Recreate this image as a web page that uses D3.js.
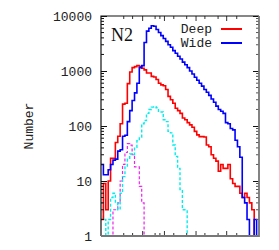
<!DOCTYPE html>
<html lang="en">
<head>
<meta charset="utf-8">
<script src="https://d3js.org/d3.v7.min.js"></script>
<style>
    body { margin: 0; background: #fff; }
    text { font-family: "Liberation Mono", "DejaVu Sans Mono", monospace; font-size: 13px; fill: #222; }
    .tick line { stroke: #111; }
</style>
</head>
<body>
<svg id="chart" width="279" height="250"></svg>
<script>
// histogram counts per bin (66 bins)
var deep = [2, 9, 3, 10, 26, 26, 50, 65, 110, 250, 260, 590, 960, 1150, 1200, 1260, 1210, 1120, 1050, 920,
    920, 800, 780, 700, 600, 560, 540, 460, 345, 300, 260, 210, 190, 170, 140, 130, 115, 105, 95, 80,
    69, 64, 64, 63, 45, 42, 30, 26, 23, 15, 20, 17, 17, 20, 11, 9, 8, 8, 6, 5,
    6, 5, 4, 3, 0, 0];
var wide = [20, 13, 13, 16, 20, 24, 25, 35, 37, 65, 68, 120, 190, 290, 400, 600, 1150, 1250, 3300, 5300,
    6000, 6650, 6500, 5700, 5000, 4400, 3900, 3450, 3000, 2700, 2350, 2100, 1850, 1650, 1450, 1300, 1150, 1000, 880, 770,
    680, 600, 530, 460, 410, 360, 310, 270, 230, 200, 185, 170, 115, 110, 90, 85, 55, 42, 27, 5,
    4, 2, 0, 0, 2, 0];
var subPink = [0, 0, 0, 0, 0, 3, 3, 4, 10, 20, 33, 48, 45, 30, 18, 18, 8, 4, 0, 0];
var subCyan = [4, 2, 0, 2, 5, 6, 4, 3, 6, 12, 18, 25, 31, 30, 41, 54, 63, 110, 126, 170,
    200, 220, 225, 215, 180, 180, 130, 120, 80, 75, 45, 28, 17, 7, 3, 3, 0, 0];
var nBins = 66;
var yTicks = [1, 10, 100, 1000, 10000];
var xTicks = [9.5, 13.2, 17.4, 22.6, 24.6, 26.5, 30.4, 35.8, 39.7, 43.4, 48.9, 52.5, 56.7];
var legendNames = ["Deep", "Wide"];

var svg = d3.select("#chart"),
    margin = {top: 16, right: 20, bottom: 14, left: 101},
    width = +svg.attr("width"),
    height = +svg.attr("height");

var x = d3.scaleLinear()
    .domain([0, nBins])
    .range([margin.left, width - margin.right]);

var y = d3.scaleLog()
    .domain([1, 10000])
    .range([height - margin.bottom, margin.top]);

svg.append("clipPath").attr("id", "plot")
    .append("rect")
    .attr("x", margin.left).attr("y", margin.top)
    .attr("width", x(nBins) - x(0)).attr("height", y(1) - y(10000));

// histogram as a step line; empty bins drop below the axis and get clipped
function steps(vals) {
    var pts = vals.map((v, i) => [i, v]);
    pts.push([vals.length, vals[vals.length - 1]]);
    return d3.line()
        .curve(d3.curveStepAfter)
        .x(d => x(d[0]))
        .y(d => d[1] > 0 ? y(d[1]) : y(0.5))(pts);
}

var g = svg.append("g").attr("clip-path", "url(#plot)");

g.append("path").attr("d", steps(subPink))
    .attr("fill", "none").attr("stroke", "#ee22ee").attr("stroke-width", 1.2)
    .attr("stroke-dasharray", "3,2");
g.append("path").attr("d", steps(subCyan))
    .attr("fill", "none").attr("stroke", "#00eeee").attr("stroke-width", 1.4)
    .attr("stroke-dasharray", "3,2");
g.append("path").attr("d", steps(deep))
    .attr("fill", "none").attr("stroke", "#ff0000").attr("stroke-width", 1.6);
g.append("path").attr("d", steps(wide))
    .attr("fill", "none").attr("stroke", "#0000ff").attr("stroke-width", 1.6);

// y axis, ticks pointing in
svg.append("g")
    .attr("transform", "translate(" + margin.left + ",0)")
    .call(d3.axisLeft(y).tickValues(yTicks).tickFormat(d3.format("d"))
        .tickSizeInner(-6).tickSizeOuter(0).tickPadding(9))
    .call(a => a.select(".domain").remove())
    .selectAll("text").style("font-size", "13px").style("font-family", "Liberation Mono, monospace");

svg.append("g")
    .attr("transform", "translate(" + x(nBins) + ",0)")
    .call(d3.axisRight(y).tickValues(yTicks).tickFormat("")
        .tickSizeInner(-6).tickSizeOuter(0))
    .call(a => a.select(".domain").remove());

var minor = y.ticks().filter(d => yTicks.indexOf(d) < 0);
svg.append("g").selectAll("line")
    .data(minor)
    .join("line")
    .attr("x1", x(0)).attr("x2", x(0) + 3)
    .attr("y1", d => y(d)).attr("y2", d => y(d))
    .attr("stroke", "#111");
svg.append("g").selectAll("line")
    .data(minor)
    .join("line")
    .attr("x1", x(nBins)).attr("x2", x(nBins) - 3)
    .attr("y1", d => y(d)).attr("y2", d => y(d))
    .attr("stroke", "#555");

// x ticks, no labels
svg.append("g").selectAll("line")
    .data(xTicks)
    .join("line")
    .attr("x1", d => x(d)).attr("x2", d => x(d))
    .attr("y1", y(1)).attr("y2", (d, i) => y(1) - (i % 3 == 2 ? 5 : 3))
    .attr("stroke", "#333");
svg.append("g").selectAll("line")
    .data(xTicks)
    .join("line")
    .attr("x1", d => x(d)).attr("x2", d => x(d))
    .attr("y1", y(10000)).attr("y2", (d, i) => y(10000) + (i % 3 == 2 ? 5 : 3))
    .attr("stroke", "#333");

// frame: top/left dark, bottom/right a heavier grey like the original
svg.append("path")
    .attr("d", "M" + x(0) + "," + y(1) + "V" + y(10000) + "H" + x(nBins))
    .attr("fill", "none").attr("stroke", "#111").attr("stroke-width", 1.2);
svg.append("path")
    .attr("d", "M" + x(0) + "," + y(1) + "H" + x(nBins) + "V" + y(10000))
    .attr("fill", "none").attr("stroke", "#777").attr("stroke-width", 1.8);

svg.append("text")
    .attr("transform", "translate(33," + ((y(1) + y(10000)) / 2) + ") rotate(-90)")
    .attr("text-anchor", "middle")
    .text("Number");

svg.append("text")
    .attr("x", x(0) + 10).attr("y", 41)
    .style("font-family", "Liberation Serif, serif").style("font-size", "18px").style("fill", "#111")
    .text("N2");

// legend
var legend = svg.append("g").selectAll("g")
    .data(legendNames)
    .join("g")
    .attr("transform", (d, i) => "translate(0," + (29 + i * 14) + ")");
legend.append("text")
    .attr("x", 212).attr("y", 4)
    .attr("text-anchor", "end")
    .text(d => d);
legend.append("line")
    .attr("x1", 221).attr("x2", 242)
    .attr("stroke", (d, i) => i == 0 ? "#ff0000" : "#0000ff")
    .attr("stroke-width", 2);
</script>
</body>
</html>
